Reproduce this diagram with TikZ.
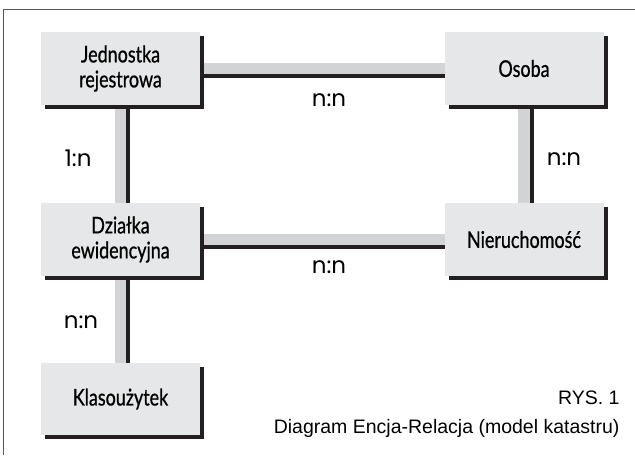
\documentclass[tikz,border=0pt]{standalone}
\usepackage{fontspec}
\setmainfont{Liberation Sans}
\newfontfamily\boxfont[FakeStretch=0.78,FakeBold=0.8]{Lato}
\newfontfamily\relfont{Poppins}
\usetikzlibrary{shadows,backgrounds}
\definecolor{boxgray}{HTML}{E6E7E8}
\definecolor{linegray}{HTML}{D1D3D4}
\definecolor{shadowblack}{HTML}{231F20}
\definecolor{framegray}{HTML}{555555}
\tikzset{
  entity/.style={fill=boxgray,minimum width=159pt,minimum height=73pt,inner sep=0pt,
    align=center,font=\boxfont\fontsize{23}{25}\selectfont,
    general shadow={fill=shadowblack,shadow xshift=4pt,shadow yshift=-4pt}},
  rel/.style={draw=linegray,line width=11.5pt},
  relshadow/.style={draw=shadowblack,line width=11.5pt},
  card/.style={anchor=base,font=\relfont\fontsize{23}{23}\selectfont},
  caption/.style={anchor=base east,font=\fontsize{19.5}{19.5}\selectfont}
}
\begin{document}
\begin{tikzpicture}[x=1pt,y=-1pt]
        \useasboundingbox(0,0)rectangle(635,457);
        \draw[framegray,line width=1.5pt](3.5,455)--(3.5,9.5)--(635,9.5);
        \node[entity](jr)at(120.5,68.5){Jednostka\\rejestrowa};
        \node[entity](os)at(524,68.5){Osoba};
        \node[entity](dz)at(120.5,239.5){Działka\\ewidencyjna};
        \node[entity](nr)at(524,239.5){Nieruchomość};
        \node[entity,minimum height=72pt](kl)at(120.5,399){Klasoużytek};
        \begin{scope}[on background layer]
        \foreach \a/\b in {jr/os,jr/dz,os/nr,dz/nr,dz/kl}{
          \draw[relshadow]([shift={(4pt,-4pt)}]\a.center)--([shift={(4pt,-4pt)}]\b.center);
          \draw[rel](\a.center)--(\b.center);
        }
        \end{scope}
        \node[card](c1)at(329,107){n:n};
        \node[card](c2)at(78,167){1:n};
        \node[card](c3)at(564,166){n:n};
        \node[card](c4)at(329,274){n:n};
        \node[card](c5)at(81,329){n:n};
        \node[caption](rys)at(623,404){RYS. 1};
        \node[caption](opis)at(623,433){Diagram Encja-Relacja (model katastru)};
    \end{tikzpicture}
\end{document}
